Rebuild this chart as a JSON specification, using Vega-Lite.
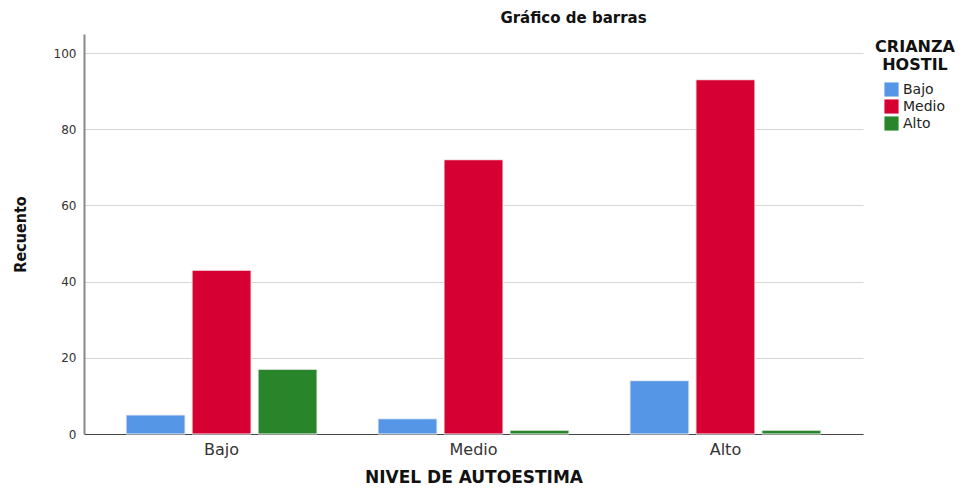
{
  "$schema": "https://vega.github.io/schema/vega-lite/v6.json",
  "width": 779,
  "height": 400,
  "autosize": "none",
  "padding": {"left": 84, "top": 34, "right": 110, "bottom": 56},
  "background": "white",
  "title": {
    "text": "Gráfico de barras",
    "font": "DejaVu Sans",
    "fontSize": 15,
    "fontWeight": "bold",
    "color": "#111111",
    "anchor": "middle",
    "frame": "group",
    "dx": 100,
    "dy": 13,
    "offset": 6,
    "baseline": "bottom"
  },
  "data": {
    "values": [
      {"nivel": "Bajo", "crianza": "Bajo", "recuento": 5},
      {"nivel": "Bajo", "crianza": "Medio", "recuento": 43},
      {"nivel": "Bajo", "crianza": "Alto", "recuento": 17},
      {"nivel": "Medio", "crianza": "Bajo", "recuento": 4},
      {"nivel": "Medio", "crianza": "Medio", "recuento": 72},
      {"nivel": "Medio", "crianza": "Alto", "recuento": 1},
      {"nivel": "Alto", "crianza": "Bajo", "recuento": 14},
      {"nivel": "Alto", "crianza": "Medio", "recuento": 93},
      {"nivel": "Alto", "crianza": "Alto", "recuento": 1}
    ]
  },
  "mark": {"type": "bar", "stroke": "#f2f2f2", "strokeWidth": 1},
  "encoding": {
    "x": {
      "field": "nivel",
      "type": "nominal",
      "sort": ["Bajo", "Medio", "Alto"],
      "scale": {"paddingInner": 0, "paddingOuter": 0.046},
      "axis": {
        "title": "NIVEL DE AUTOESTIMA",
        "titleFont": "DejaVu Sans",
        "titleFontSize": 17,
        "titleFontWeight": "bold",
        "titleColor": "#111111",
        "titlePadding": 12,
        "labelFont": "DejaVu Sans",
        "labelFontSize": 16,
        "labelColor": "#333333",
        "labelAngle": 0,
        "labelPadding": 7,
        "ticks": false,
        "domainColor": "#444444",
        "domainWidth": 1.2,
        "grid": false
      }
    },
    "xOffset": {
      "field": "crianza",
      "type": "nominal",
      "sort": ["Bajo", "Medio", "Alto"],
      "scale": {"paddingInner": 0.106, "paddingOuter": 0.462}
    },
    "y": {
      "field": "recuento",
      "type": "quantitative",
      "scale": {"domain": [0, 105], "nice": false},
      "axis": {
        "title": "Recuento",
        "titleFont": "DejaVu Sans Condensed",
        "titleFontSize": 16,
        "titleFontWeight": "bold",
        "titleColor": "#111111",
        "titlePadding": 25,
        "labelFont": "DejaVu Sans",
        "labelFontSize": 12,
        "labelColor": "#333333",
        "labelPadding": 8,
        "values": [0, 20, 40, 60, 80, 100],
        "ticks": false,
        "domainColor": "#888888",
        "domainWidth": 2,
        "grid": true,
        "gridColor": "#d6d6d6",
        "gridWidth": 1.2
      }
    },
    "color": {
      "field": "crianza",
      "type": "nominal",
      "sort": ["Bajo", "Medio", "Alto"],
      "scale": {"domain": ["Bajo", "Medio", "Alto"], "range": ["#5596e6", "#d70032", "#28852a"]},
      "legend": {
        "title": ["CRIANZA", "HOSTIL"],
        "orient": "none",
        "legendX": 791,
        "legendY": 5,
        "titleFont": "DejaVu Sans",
        "titleFontSize": 16,
        "titleFontWeight": "bold",
        "titleColor": "#111111",
        "titleAnchor": "middle",
        "titleLineHeight": 18,
        "titlePadding": 9,
        "labelFont": "DejaVu Sans",
        "labelFontSize": 14,
        "labelColor": "#222222",
        "symbolType": "square",
        "symbolSize": 200,
        "symbolStrokeWidth": 0,
        "rowPadding": 2,
        "labelOffset": 4,
        "offset": 0
      }
    }
  },
  "config": {
    "view": {"stroke": null}
  }
}
